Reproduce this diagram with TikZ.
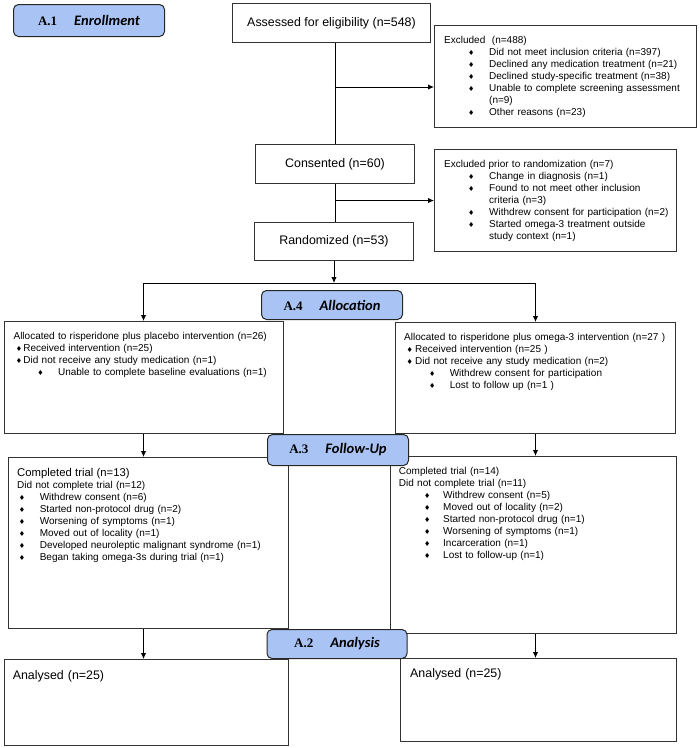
\documentclass[tikz,border=0pt]{standalone}
\usepackage{fontspec}
\setmainfont{Liberation Sans}
\newfontfamily\serifbold{Liberation Serif}
\newfontfamily\calibri{Carlito}
\newfontfamily\symb{DejaVu Sans}
\usetikzlibrary{arrows.meta}

\begin{document}
\begin{tikzpicture}[x=1pt, y=-1pt]

      \definecolor{stageblue}{HTML}{A9C4F4}
      \definecolor{boxline}{HTML}{333333}

      \tikzstyle{box}       = [rectangle, draw=boxline, line width=1pt, inner sep=0pt, anchor=north west]
      \tikzstyle{stage}     = [rectangle, rounded corners=5pt, draw=black!85, line width=1pt, fill=stageblue, inner sep=0pt, anchor=north west]
      \tikzstyle{listtext}  = [inner sep=0pt, anchor=north west, align=left, text width=275pt, font=\fontsize{10}{12}\selectfont]
      \tikzstyle{bigtext}   = [font=\fontsize{12.4}{15}\selectfont]
      \tikzstyle{line}      = [line width=1pt]
      \tikzstyle{connector} = [line width=1pt, -{Latex[length=6pt, width=5.5pt]}]

      \newcommand{\dia}{{\symb\fontsize{7}{7}\selectfont ♦}}
      \newcommand{\itm}[3]{\hspace*{#1}\makebox[#2][l]{\dia}#3}
      \newcommand{\stagenum}[1]{{\serifbold\bfseries\fontsize{13}{13}\selectfont #1}}
      \newcommand{\stagename}[1]{{\calibri\bfseries\itshape\fontsize{14.5}{14.5}\selectfont #1}}
      \newcommand{\stagelabel}[2]{\stagenum{#1}\hspace{17pt}\stagename{#2}}

      \useasboundingbox (0,0) rectangle (700,748);

      % boxes
      \node [box, bigtext, minimum width=198pt, minimum height=39pt]  (assessed)   at (232,3)     {Assessed for eligibility (n=548)};
      \node [box,          minimum width=262pt, minimum height=102pt] (excl1)      at (434,25)    {};
      \node [box, bigtext, minimum width=159pt, minimum height=39pt]  (consented)  at (255,144)   {Consented (n=60)};
      \node [box,          minimum width=242pt, minimum height=102pt] (excl2)      at (434,149)   {};
      \node [box, bigtext, minimum width=159pt, minimum height=38pt]  (randomized) at (254,222)   {Randomized (n=53)};
      \node [box,          minimum width=279pt, minimum height=112pt] (allocL)     at (3.5,321)   {};
      \node [box,          minimum width=280pt, minimum height=111pt] (allocR)     at (395,322)   {};
      \node [box,          minimum width=280pt, minimum height=171pt] (followL)    at (7.5,457)   {};
      \node [box,          minimum width=286pt, minimum height=177pt] (followR)    at (390,456)   {};
      \node [box,          minimum width=284pt, minimum height=86pt]  (analysisL)  at (3.5,659)   {};
      \node [box,          minimum width=276pt, minimum height=83pt]  (analysisR)  at (400,658)   {};

      % texts
      \node [listtext] (excl1txt) at (444,36) {Excluded\ \ (n=488)\\
        \itm{24pt}{21pt}{Did not meet inclusion criteria (n=397)}\\
        \itm{24pt}{21pt}{Declined any medication treatment (n=21)}\\
        \itm{24pt}{21pt}{Declined study-specific treatment (n=38)}\\
        \itm{24pt}{21pt}{Unable to complete screening assessment}\\
        \hspace*{45pt}(n=9)\\
        \itm{24pt}{21pt}{Other reasons (n=23)}};
      \node [listtext] (excl2txt) at (444,160) {Excluded prior to randomization (n=7)\\
        \itm{24pt}{21pt}{Change in diagnosis (n=1)}\\
        \itm{24pt}{21pt}{Found to not meet other inclusion}\\
        \hspace*{45pt}criteria (n=3)\\
        \itm{24pt}{21pt}{Withdrew consent for participation (n=2)}\\
        \itm{24pt}{21pt}{Started omega-3 treatment outside}\\
        \hspace*{45pt}study context (n=1)};
      \node [listtext] (allocLtxt) at (13.4,332) {Allocated to risperidone plus placebo intervention (n=26)\\
        \itm{2.3pt}{7.5pt}{Received intervention (n=25)}\\
        \itm{2.3pt}{7.5pt}{Did not receive any study medication (n=1)}\\
        \itm{23.7pt}{20.8pt}{Unable to complete baseline evaluations (n=1)}};
      \node [listtext] (allocRtxt) at (404,333) {Allocated to risperidone plus omega-3 intervention (n=27 )\\
        \itm{2.3pt}{8.7pt}{Received intervention (n=25 )}\\
        \itm{2.3pt}{8.7pt}{Did not receive any study medication (n=2)}\\
        \itm{24.8pt}{20.8pt}{Withdrew consent for participation}\\
        \itm{24.8pt}{20.8pt}{Lost to follow up (n=1 )}};
      \node [listtext] (followLtxt) at (17,468.5) {{\fontsize{11.3}{12}\selectfont Completed trial (n=13)}\\
        Did not complete trial (n=12)\\
        \itm{1.8pt}{20.8pt}{Withdrew consent (n=6)}\\
        \itm{1.8pt}{20.8pt}{Started non-protocol drug (n=2)}\\
        \itm{1.8pt}{20.8pt}{Worsening of symptoms (n=1)}\\
        \itm{1.8pt}{20.8pt}{Moved out of locality (n=1)}\\
        \itm{1.8pt}{20.8pt}{Developed neuroleptic malignant syndrome (n=1)}\\
        \itm{1.8pt}{20.8pt}{Began taking omega-3s during trial (n=1)}};
      \node [listtext] (followRtxt) at (398.7,467) {Completed trial (n=14)\\
        Did not complete trial (n=11)\\
        \itm{25.1pt}{19.2pt}{Withdrew consent (n=5)}\\
        \itm{25.1pt}{19.2pt}{Moved out of locality (n=2)}\\
        \itm{25.1pt}{19.2pt}{Started non-protocol drug (n=1)}\\
        \itm{25.1pt}{19.2pt}{Worsening of symptoms (n=1)}\\
        \itm{25.1pt}{19.2pt}{Incarceration (n=1)}\\
        \itm{25.1pt}{19.2pt}{Lost to follow-up (n=1)}};
      \node [listtext, bigtext] (analysisLtxt) at (12.6,670.5) {Analysed (n=25)};
      \node [listtext, bigtext] (analysisRtxt) at (410,668.5)  {Analysed (n=25)};

      % connectors
      \coordinate (toexcl1) at (334.5,87);
      \coordinate (split)   at (334,283);
      \draw [line]      (consented.north |- assessed.south) -- (consented.north);
      \draw [connector] (toexcl1) -- (toexcl1 -| excl1.west);
      \draw [line]      (consented.south) -- (consented.south |- randomized.north);
      \draw [connector] (consented.south |- excl2.west) -- (excl2.west);
      \draw [connector] (randomized.south) -- (split);
      \draw [line]      (split -| allocL.north) -- (split -| allocR.north);
      \draw [connector] (split -| allocL.north) -- (allocL.north);
      \draw [connector] (split -| allocR.north) -- (allocR.north);
      \draw [connector] (allocL.south) -- (allocL.south |- followL.north);
      \draw [connector] (allocR.south) -- (allocR.south |- followR.north);
      \draw [connector] (allocL.south |- followL.south) -- (allocL.south |- analysisL.north);
      \draw [connector] (allocR.south |- followR.south) -- (allocR.south |- analysisR.north);

      % stage labels
      \node [stage, minimum width=151pt, minimum height=32pt] (enrolment)  at (13,4)      {\stagelabel{A.1}{Enrollment}};
      \node [stage, minimum width=141pt, minimum height=29pt] (allocation) at (261,290)   {\stagelabel{A.4}{Allocation}};
      \node [stage, minimum width=141pt, minimum height=31pt] (followup)   at (267,434)   {\stagelabel{A.3}{Follow-Up}};
      \node [stage, minimum width=140pt, minimum height=29pt] (analysis)   at (266.5,629) {\stagelabel{A.2}{Analysis}};

\end{tikzpicture}
\end{document}
